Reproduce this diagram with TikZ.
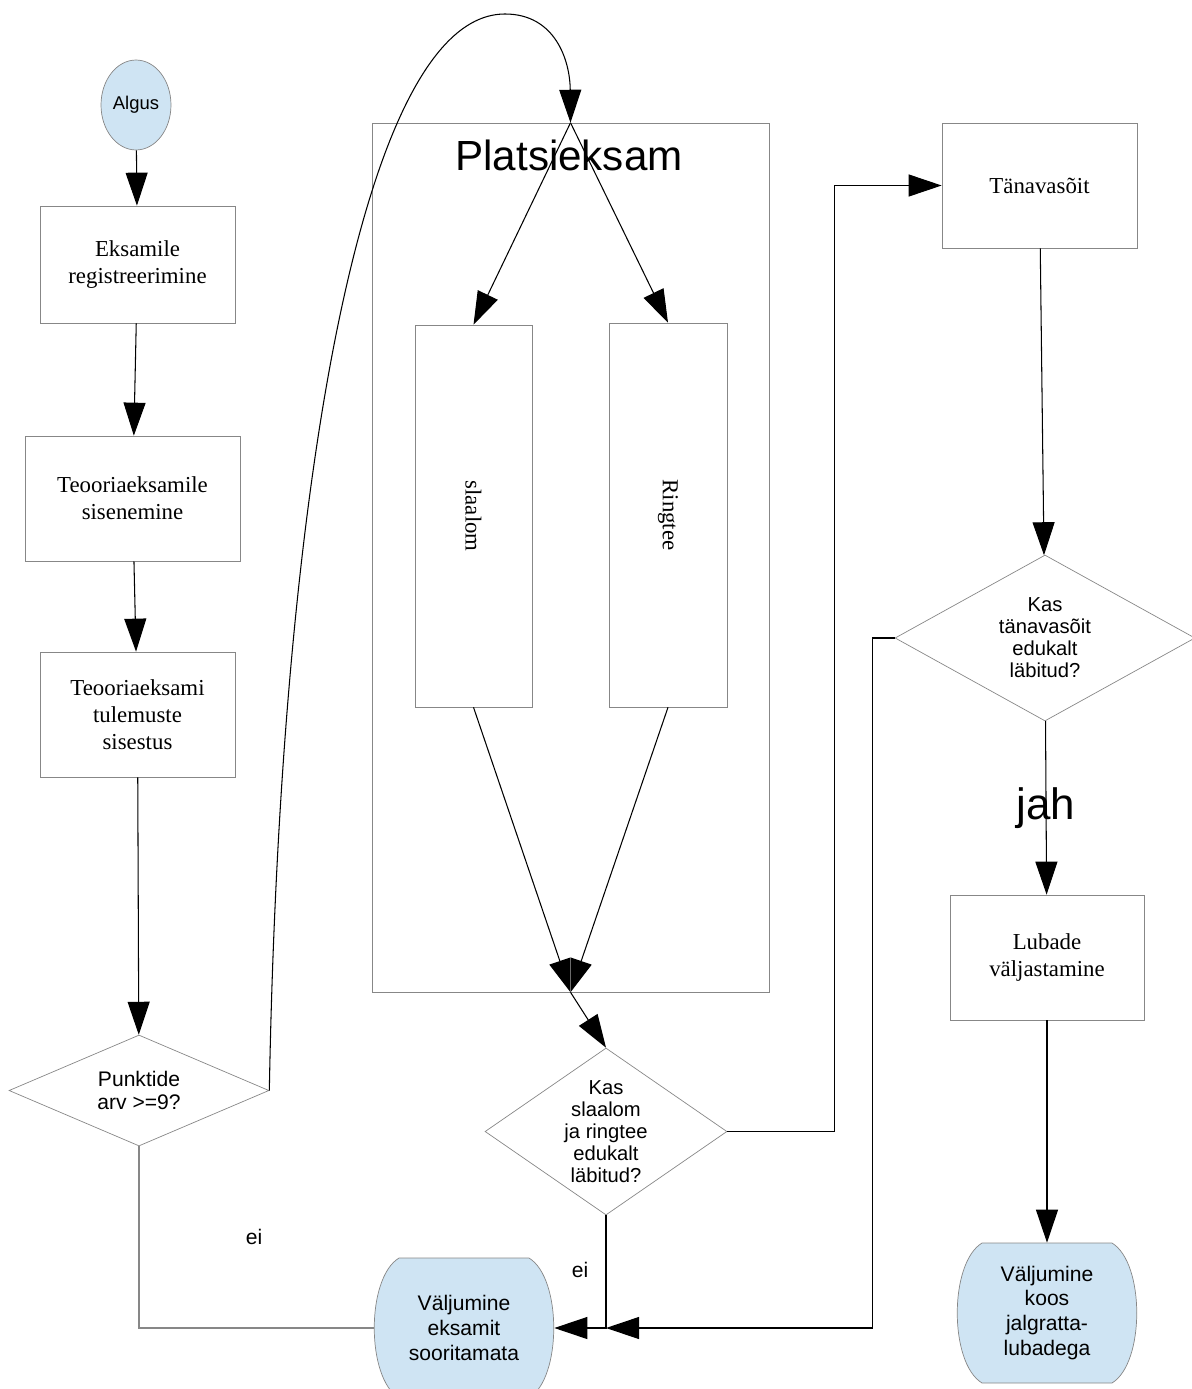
\documentclass[tikz,border=0pt]{standalone}
\usepackage{fontspec}
\usepackage{graphicx}
\setmainfont{Liberation Serif}
\newfontfamily\arialfont{Liberation Sans}
\usetikzlibrary{shapes.geometric,arrows.meta}
\definecolor{termblue}{RGB}{207,228,243}
\definecolor{edgegray}{RGB}{135,135,135}
\tikzset{barrelpic/.pic={
  \draw[edgegray,fill=termblue] (-65,-70) -- (65,-70) .. controls (98,-50) and (98,50) .. (65,70)
    -- (-65,70) .. controls (-98,50) and (-98,-50) .. cycle;}}

\begin{document}
\begin{tikzpicture}[x=0.02cm,y=-0.02cm,
  box/.style={draw=edgegray,fill=white,align=center,inner sep=0pt,font=\fontsize{13}{15.5}\selectfont},
  decision/.style={draw=edgegray,diamond,inner sep=0pt},
  dtext/.style={align=center,font=\arialfont\fontsize{11.5}{12.5}\selectfont},
  terminal/.style={rectangle,minimum width=3.6cm,minimum height=2.8cm,inner sep=0pt,
    align=center,font=\arialfont\fontsize{12}{14.2}\selectfont},
  conn/.style={line width=0.6pt},
  arr/.style={conn,-{Triangle[length=6.6mm,width=4.4mm]}}]
   \useasboundingbox (0,0) rectangle (1191,1389);
   \node[draw=edgegray,fill=termblue,ellipse,minimum width=1.4cm,minimum height=1.8cm,inner sep=0pt,
     font=\arialfont\fontsize{10.5}{12}\selectfont] (algus) at (136,105) {Algus};
   \node[box,minimum width=3.9cm,minimum height=2.34cm] (reg) at (137.5,264.5) {Eksamile\\registreerimine};
   \node[box,minimum width=4.3cm,minimum height=2.5cm] (sisen) at (132.5,498.5) {Teooriaeksamile\\sisenemine};
   \node[box,minimum width=3.9cm,minimum height=2.5cm] (sisest) at (137.5,714.5) {Teooriaeksami\\tulemuste\\sisestus};
   \node[decision,minimum width=5.2cm,minimum height=2.22cm,
     label={[dtext,font=\arialfont\fontsize{12}{13.6}\selectfont]center:Punktide\\arv >=9?}] (punkt) at (139,1090.5) {};
   \node[draw=edgegray,minimum width=7.94cm,minimum height=17.38cm,inner sep=0pt] (plats) at (570.5,557.5) {};
   \node[font=\arialfont\fontsize{24}{28}\selectfont] (platsnimi) at (569,155) {Platsieksam};
   \node[box,minimum width=2.34cm,minimum height=7.64cm] (slaalom) at (473.5,516) {\rotatebox{-90}{slaalom}};
   \node[box,minimum width=2.36cm,minimum height=7.68cm] (ringtee) at (668,515) {\rotatebox{-90}{Ringtee}};
   \node[decision,minimum width=4.84cm,minimum height=3.34cm,
     label={[dtext]center:Kas\\slaalom\\ja ringtee\\edukalt\\läbitud?}] (kas1) at (606,1131.5) {};
   \pic at (464,1328) {barrelpic};
   \node[terminal] (valj1) at (464,1328) {Väljumine\\eksamit\\sooritamata};
   \node[box,minimum width=3.9cm,minimum height=2.5cm] (tanav) at (1039.5,185.5) {Tänavasõit};
   \node[decision,minimum width=6cm,minimum height=3.32cm,
     label={[dtext]center:Kas\\tänavasõit\\edukalt\\läbitud?}] (kas2) at (1045,638) {};
   \node[box,minimum width=3.88cm,minimum height=2.5cm] (lubade) at (1047,957.5) {Lubade\\väljastamine};
   \pic at (1047,1313) {barrelpic};
   \node[terminal] (valj2) at (1047,1313) {Väljumine\\koos\\jalgratta-\\lubadega};
   \coordinate (kokku) at (kas1.south |- valj1.east);

   \draw[arr] (algus) -- (reg);
   \draw[arr] (reg) -- (sisen);
   \draw[arr] (sisen) -- (sisest);
   \draw[arr] (sisest) -- (punkt);
   \draw[arr] (punkt.east) .. controls (280,500) and (360,14) .. (505,14)
     .. controls (555,14) and (570,60) .. (plats.north);
   \draw[arr] (plats.north) -- (slaalom.north);
   \draw[arr] (plats.north) -- (ringtee.north);
   \draw[arr] (slaalom.south) -- (plats.south);
   \draw[arr] (ringtee.south) -- (plats.south);
   \draw[arr] (plats.south) -- (kas1.north);
   \draw[arr] (kas1.east) -- ++(107,0) |- (tanav.west);
   \draw[arr] (kas1.south) -- (kokku) -- (valj1.east);
   \draw[conn,edgegray] (punkt.south) |- (valj1.west);
   \draw[arr] (kas2.west) -- ++(-22,0) |- (kokku);
   \draw[arr] (tanav) -- (kas2);
   \draw[arr] (kas2) -- (lubade);
   \draw[arr] (lubade) -- (valj2);

   \node[font=\arialfont\fontsize{12}{14}\selectfont] (ei1) at (254,1237) {ei};
   \node[font=\arialfont\fontsize{12}{14}\selectfont] (ei2) at (580,1270) {ei};
   \node[font=\arialfont\fontsize{25}{28}\selectfont] (jah) at (1046,808) {jah};
  \end{tikzpicture}
\end{document}
